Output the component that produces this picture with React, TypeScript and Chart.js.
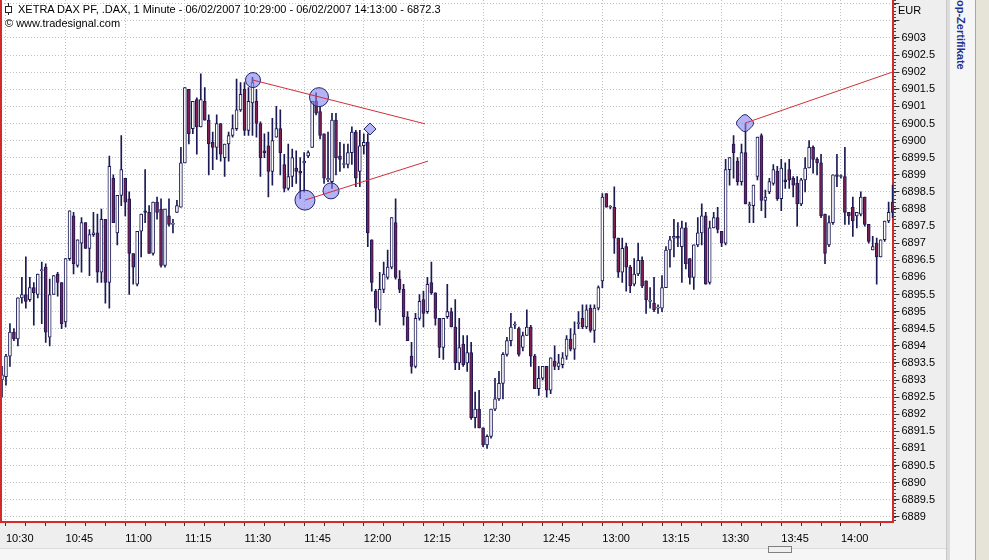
import React, { useEffect, useRef } from "react";
import { Chart, registerables } from "chart.js";

Chart.register(...registerables);

// minutes after 10:00 of the first bar (10:29)
const START_MINUTE = 29;

const OPEN = [
  6893.0, 6893.1, 6893.7, 6894.4, 6894.2, 6895.4, 6895.5, 6895.35, 6895.7, 6895.5,
  6896.2, 6896.3, 6894.25, 6895.5, 6896.1, 6895.85, 6894.7, 6896.55, 6897.8, 6896.35,
  6897.0, 6897.6, 6896.85, 6897.25, 6897.3, 6896.15, 6897.7, 6895.85, 6898.9, 6897.3,
  6898.4, 6898.9, 6898.3, 6896.7, 6895.8, 6897.35, 6897.95, 6897.9, 6896.7, 6898.2,
  6898.0, 6896.35, 6897.8, 6897.55, 6897.9, 6898.05, 6899.35, 6901.5, 6900.35, 6901.2,
  6900.4, 6901.15, 6900.6, 6899.95, 6899.8, 6900.5, 6899.5, 6899.9, 6900.15, 6900.35,
  6900.9, 6901.5, 6900.3, 6901.1, 6901.15, 6900.5, 6899.7, 6899.85, 6899.1, 6900.1,
  6900.35, 6899.3, 6898.6, 6898.95, 6899.2, 6899.1, 6899.35, 6899.55, 6899.8, 6901.15,
  6900.85, 6900.2, 6898.85, 6898.8, 6900.6, 6899.55, 6899.3, 6899.3, 6899.65, 6900.25,
  6899.1, 6899.85, 6899.95, 6897.1, 6895.6, 6895.05, 6895.65, 6896.0, 6896.3, 6897.6,
  6895.95, 6895.65, 6894.85, 6893.7, 6893.4, 6894.8, 6895.35, 6895.0, 6895.85, 6895.55,
  6894.8, 6893.95, 6894.85, 6895.0, 6894.55, 6893.5, 6894.05, 6893.5, 6893.8, 6891.9,
  6892.15, 6891.6, 6891.1, 6891.35, 6892.15, 6892.45, 6892.9, 6893.75, 6894.15, 6894.6,
  6894.5, 6893.95, 6894.3, 6894.55, 6893.7, 6892.75, 6893.05, 6893.4, 6892.7, 6893.55,
  6893.4, 6893.45, 6893.7, 6894.2, 6893.9, 6894.65, 6894.8, 6894.55, 6895.1, 6894.45,
  6895.1, 6895.9, 6898.45, 6898.05, 6898.05, 6897.15, 6896.15, 6896.9, 6896.3, 6895.8,
  6896.1, 6896.5, 6895.9, 6895.3, 6895.25, 6895.1, 6895.1, 6895.7, 6896.8, 6897.15,
  6897.2, 6896.9, 6897.45, 6896.55, 6896.0, 6896.95, 6897.3, 6897.8, 6895.85, 6897.45,
  6897.75, 6897.35, 6897.0, 6899.15, 6899.9, 6899.4, 6898.8, 6899.65, 6898.1, 6898.1,
  6898.95, 6900.15, 6898.25, 6898.5, 6898.75, 6899.1, 6898.3, 6898.85, 6899.15, 6898.9,
  6898.75, 6898.15, 6898.85, 6899.2, 6899.8, 6899.45, 6899.35, 6897.85, 6896.95, 6897.6,
  6899.0, 6898.95, 6898.95, 6897.9, 6898.05, 6897.8, 6897.85, 6898.35, 6897.55, 6896.8,
  6897.0, 6896.6, 6897.1, 6897.65, 6898.2,
];

const HIGH = [
  6893.4, 6893.75, 6894.65, 6894.5, 6895.4, 6896.0, 6896.6, 6896.0, 6895.85, 6896.1,
  6896.45, 6896.4, 6895.95, 6896.05, 6896.15, 6895.85, 6896.55, 6897.95, 6897.9, 6897.1,
  6897.75, 6897.6, 6897.4, 6897.9, 6897.85, 6898.0, 6897.7, 6899.55, 6899.0, 6898.4,
  6900.15, 6898.9, 6898.5, 6896.7, 6897.35, 6897.85, 6899.15, 6898.1, 6898.2, 6898.35,
  6898.3, 6898.0, 6898.3, 6897.7, 6898.25, 6899.8, 6901.55, 6901.5, 6901.15, 6901.25,
  6901.95, 6901.55, 6900.75, 6900.25, 6900.75, 6900.5, 6899.9, 6900.25, 6900.75, 6901.8,
  6901.7, 6901.7, 6901.55, 6901.85, 6901.5, 6900.55, 6900.2, 6900.25, 6900.65, 6901.0,
  6900.9, 6899.6, 6899.9, 6899.75, 6899.7, 6899.5, 6899.65, 6899.7, 6901.15, 6901.4,
  6901.0, 6900.2, 6900.25, 6900.8, 6900.8, 6899.95, 6899.9, 6899.9, 6900.4, 6900.3,
  6900.3, 6900.2, 6900.2, 6897.1, 6895.65, 6896.15, 6896.45, 6896.8, 6897.75, 6898.3,
  6896.2, 6895.8, 6895.0, 6894.1, 6894.95, 6895.5, 6895.6, 6896.0, 6896.45, 6895.55,
  6894.8, 6894.8, 6895.8, 6895.1, 6895.35, 6894.8, 6894.3, 6894.3, 6894.1, 6892.65,
  6892.7, 6891.6, 6891.4, 6892.15, 6893.05, 6893.25, 6893.8, 6894.25, 6894.95, 6894.7,
  6894.55, 6894.4, 6895.05, 6894.6, 6893.75, 6893.4, 6893.4, 6893.4, 6893.65, 6894.0,
  6893.75, 6893.8, 6894.3, 6894.5, 6894.7, 6895.0, 6895.2, 6895.2, 6895.2, 6895.2,
  6895.75, 6898.45, 6898.45, 6898.1, 6898.65, 6897.15, 6897.15, 6897.0, 6896.35, 6896.55,
  6897.0, 6896.6, 6895.9, 6895.7, 6896.0, 6895.2, 6896.05, 6896.9, 6897.2, 6897.7,
  6897.6, 6897.65, 6897.6, 6896.55, 6896.95, 6897.75, 6898.15, 6897.9, 6897.65, 6897.9,
  6898.05, 6897.35, 6899.45, 6899.5, 6900.15, 6899.5, 6899.9, 6900.5, 6898.2, 6898.7,
  6900.1, 6900.2, 6898.55, 6898.9, 6899.3, 6899.25, 6899.45, 6899.35, 6899.45, 6898.95,
  6898.95, 6898.9, 6899.5, 6900.0, 6899.85, 6899.5, 6899.6, 6897.85, 6897.8, 6899.0,
  6899.6, 6899.0, 6899.8, 6897.9, 6898.35, 6897.9, 6898.5, 6898.35, 6897.55, 6897.2,
  6897.15, 6897.1, 6897.65, 6898.2, 6898.7,
];

const LOW = [
  6892.5, 6892.85, 6893.4, 6894.15, 6894.0, 6895.25, 6895.1, 6895.3, 6894.6, 6895.4,
  6894.65, 6894.1, 6894.0, 6895.5, 6895.45, 6894.5, 6894.55, 6896.5, 6896.1, 6896.3,
  6896.15, 6896.85, 6896.05, 6897.2, 6895.85, 6895.85, 6895.25, 6895.1, 6897.6, 6896.95,
  6898.1, 6897.8, 6895.5, 6895.8, 6895.75, 6896.6, 6897.6, 6896.7, 6896.65, 6897.7,
  6896.3, 6896.3, 6897.5, 6897.3, 6897.9, 6898.05, 6899.35, 6899.9, 6900.2, 6899.6,
  6900.4, 6900.6, 6899.0, 6899.15, 6899.45, 6899.4, 6898.95, 6899.4, 6900.1, 6900.3,
  6900.85, 6900.15, 6900.15, 6900.15, 6900.1, 6898.95, 6899.5, 6898.35, 6898.7, 6900.1,
  6899.0, 6898.5, 6898.55, 6898.65, 6898.75, 6898.3, 6898.5, 6899.5, 6899.8, 6900.75,
  6900.05, 6898.75, 6898.8, 6898.6, 6899.0, 6899.1, 6899.2, 6899.2, 6899.3, 6898.65,
  6898.65, 6899.6, 6896.9, 6895.6, 6894.7, 6894.6, 6895.55, 6895.95, 6896.25, 6895.95,
  6895.55, 6894.6, 6894.15, 6893.2, 6893.35, 6894.75, 6894.55, 6894.95, 6895.5, 6894.6,
  6893.65, 6893.6, 6894.8, 6894.55, 6893.3, 6893.3, 6893.4, 6893.25, 6891.85, 6891.6,
  6891.6, 6891.05, 6891.0, 6891.3, 6892.1, 6892.4, 6892.45, 6893.7, 6894.0, 6894.5,
  6893.7, 6893.85, 6894.3, 6893.4, 6892.75, 6892.55, 6893.0, 6892.5, 6892.6, 6893.3,
  6893.3, 6893.35, 6893.6, 6893.85, 6893.6, 6894.5, 6894.5, 6894.5, 6894.4, 6894.1,
  6895.05, 6895.7, 6898.05, 6898.0, 6896.7, 6896.0, 6895.85, 6895.6, 6895.55, 6895.75,
  6896.05, 6895.7, 6894.95, 6895.1, 6895.0, 6894.95, 6895.0, 6895.7, 6896.3, 6896.6,
  6896.9, 6895.85, 6896.25, 6895.8, 6895.65, 6896.9, 6896.95, 6895.8, 6895.8, 6897.45,
  6897.3, 6896.9, 6896.95, 6898.7, 6898.9, 6898.7, 6898.7, 6898.15, 6897.6, 6897.6,
  6898.85, 6897.95, 6897.75, 6898.45, 6898.7, 6898.25, 6897.95, 6898.6, 6898.6, 6898.35,
  6897.5, 6898.1, 6898.5, 6899.2, 6899.05, 6899.0, 6897.75, 6896.4, 6896.9, 6897.55,
  6898.65, 6898.9, 6897.55, 6897.55, 6897.2, 6897.45, 6897.8, 6897.5, 6897.0, 6896.8,
  6895.8, 6896.6, 6897.05, 6897.6, 6897.75,
];

const CLOSE = [
  6893.15, 6893.7, 6894.4, 6894.2, 6895.4, 6895.5, 6895.3, 6895.7, 6895.55, 6896.1,
  6896.2, 6894.4, 6895.5, 6896.05, 6895.85, 6894.65, 6896.55, 6897.95, 6896.4, 6897.1,
  6897.6, 6896.85, 6897.25, 6897.3, 6896.15, 6897.7, 6895.85, 6899.25, 6897.6, 6898.4,
  6899.15, 6898.2, 6896.7, 6896.3, 6897.35, 6897.85, 6897.9, 6896.7, 6898.2, 6897.9,
  6896.35, 6898.0, 6897.55, 6897.55, 6898.1, 6899.35, 6901.55, 6900.2, 6901.15, 6900.4,
  6901.2, 6900.6, 6899.9, 6899.8, 6900.5, 6899.6, 6899.9, 6900.15, 6900.35, 6900.9,
  6901.35, 6900.3, 6901.15, 6901.7, 6900.5, 6899.5, 6899.65, 6899.1, 6900.0, 6900.35,
  6899.65, 6898.6, 6898.95, 6899.5, 6899.1, 6899.05, 6899.4, 6899.65, 6901.15, 6900.8,
  6900.15, 6898.9, 6898.9, 6900.6, 6899.5, 6899.45, 6899.3, 6899.65, 6900.25, 6898.9,
  6899.85, 6899.95, 6897.3, 6895.85, 6895.1, 6895.65, 6896.1, 6896.3, 6897.75, 6896.0,
  6895.65, 6894.85, 6894.15, 6893.4, 6894.8, 6895.3, 6894.95, 6895.8, 6895.55, 6894.8,
  6893.95, 6894.8, 6895.0, 6894.55, 6893.5, 6893.95, 6893.45, 6893.8, 6891.9, 6892.15,
  6891.6, 6891.1, 6891.35, 6892.15, 6892.45, 6892.9, 6893.75, 6894.15, 6894.55, 6894.6,
  6893.75, 6894.3, 6894.55, 6893.7, 6892.75, 6893.05, 6893.4, 6892.7, 6893.65, 6893.4,
  6893.5, 6893.65, 6894.2, 6893.9, 6894.35, 6894.65, 6894.55, 6895.05, 6894.45, 6895.1,
  6895.7, 6898.35, 6898.05, 6898.05, 6897.15, 6896.15, 6896.85, 6896.3, 6895.75, 6896.1,
  6896.5, 6895.75, 6895.35, 6895.3, 6895.05, 6895.1, 6895.7, 6896.8, 6897.1, 6897.2,
  6897.15, 6897.45, 6896.4, 6896.0, 6896.95, 6897.3, 6897.8, 6895.8, 6897.45, 6897.75,
  6897.4, 6897.0, 6899.15, 6899.5, 6899.65, 6898.8, 6899.65, 6898.15, 6898.1, 6898.7,
  6900.1, 6898.25, 6898.35, 6898.8, 6899.15, 6898.3, 6899.2, 6898.8, 6898.85, 6898.7,
  6898.15, 6898.85, 6899.2, 6899.8, 6899.45, 6899.35, 6897.8, 6896.7, 6897.6, 6899.0,
  6898.95, 6898.95, 6897.9, 6897.8, 6897.65, 6897.9, 6898.35, 6897.55, 6897.05, 6896.9,
  6896.6, 6897.1, 6897.65, 6897.9, 6897.9,
];

// x tick labels (minutes after 10:00) and y tick values
const X_LABEL_MINUTES = [30, 45, 60, 75, 90, 105, 120, 135, 150, 165, 180, 195, 210, 225, 240];
const X_MINOR_STEP = 5;
const X_LAST_TICK = 250;
const Y_TICK_VALUES = [
  6889, 6889.5, 6890, 6890.5, 6891, 6891.5, 6892, 6892.5, 6893, 6893.5, 6894, 6894.5,
  6895, 6895.5, 6896, 6896.5, 6897, 6897.5, 6898, 6898.5, 6899, 6899.5, 6900, 6900.5,
  6901, 6901.5, 6902, 6902.5, 6903, 6903.5, 6904,
];
const Y_MAX_LABEL = 6903;
const X_MIN = 28.75;
const X_MAX = 253.2;
const Y_MIN = 6888.848;
const Y_MAX = 6904.111;

// drawing-tool annotations (minute, price)
const MARKER_X = [92.13, 108.73, 105.2, 111.75, 121.56, 215.87];
const MARKER_Y = [6901.77, 6901.27, 6898.26, 6898.53, 6900.34, 6900.51];
const TREND_UPPER_X = [92.13, 135.39];
const TREND_UPPER_Y = [6901.77, 6900.49];
const TREND_LOWER_X = [105.2, 136.14];
const TREND_LOWER_Y = [6898.26, 6899.4];
const TREND_RIGHT_X = [215.87, 253.1];
const TREND_RIGHT_Y = [6900.51, 6902.01];

const TITLE = "XETRA DAX PF, .DAX, 1 Minute - 06/02/2007 10:29:00 - 06/02/2007 14:13:00 - 6872.3";
const SOURCE = "\u00a9 www.tradesignal.com";

// styles
const NAVY = "#1b1a55";
const MAROON = "#7e1f4f";
const RED = "#d42a2a";
const LINE_RED = "#d0303a";
const GRID = "#c2c2c2";
const FONT = '"Liberation Sans", Arial, sans-serif';
const MARKER_STYLE = ["circle", "circle", "circle", "circle", "rectRot", "rectRounded"];
const MARKER_RADIUS = [7.5, 9.5, 10, 8, 6, 8.5];
const MARKER_ROT = [0, 0, 0, 0, 0, 45];

function fmtMinute(m: number): string {
  const h = 10 + Math.floor(m / 60);
  const mm = m % 60;
  return `${h}:${mm < 10 ? "0" + mm : mm}`;
}

const framePlugin = {
  id: "frame",
  beforeDraw(chart: any) {
    const { ctx, chartArea: a } = chart;
    ctx.save();
    ctx.fillStyle = "#ffffff";
    ctx.fillRect(a.left, a.top, a.right - a.left, a.bottom - a.top);
    ctx.restore();
  },
  afterDraw(chart: any) {
    const { ctx, chartArea: a, scales } = chart;
    ctx.save();
    ctx.strokeStyle = RED;
    ctx.lineWidth = 2;
    ctx.beginPath();
    ctx.moveTo(a.left, 0);
    ctx.lineTo(a.left, a.bottom);
    ctx.stroke();
    const y = scales.y;
    ctx.fillStyle = "#444";
    for (let v = Math.ceil(y.min * 10); v <= y.max * 10; v++) {
      const py = Math.round(y.getPixelForValue(v / 10));
      ctx.fillRect(Math.round(a.right) + 1, py, 2, 1);
    }
    ctx.restore();
  },
};

export default function App() {
  const ref = useRef<HTMLCanvasElement>(null);

  useEffect(() => {
    document.body.style.margin = "0";
    const canvas = ref.current;
    if (!canvas) return;
    const xs = OPEN.map((_, i) => START_MINUTE + i);
    const up = OPEN.map((o, i) => CLOSE[i] >= o);
    const minorTicks: number[] = [];
    for (let m = X_LABEL_MINUTES[0]; m <= X_LAST_TICK; m += X_MINOR_STEP) minorTicks.push(m);

    const trend = (X: number[], Y: number[]) => X.map((x, i) => ({ x, y: Y[i] }));
    const lineDs = (X: number[], Y: number[]) => ({
      type: "line" as const,
      data: trend(X, Y),
      borderColor: LINE_RED,
      borderWidth: 1,
      pointRadius: 0,
      fill: false,
      order: -2,
    });

    const chart = new Chart(canvas, {
      type: "bar",
      data: {
        datasets: [
          lineDs(TREND_UPPER_X, TREND_UPPER_Y),
          lineDs(TREND_LOWER_X, TREND_LOWER_Y),
          lineDs(TREND_RIGHT_X, TREND_RIGHT_Y),
          {
            type: "line",
            data: trend(MARKER_X, MARKER_Y),
            showLine: false,
            pointStyle: MARKER_STYLE as any,
            pointRadius: MARKER_RADIUS,
            pointRotation: MARKER_ROT,
            pointBackgroundColor: "rgba(128,128,238,0.6)",
            pointBorderColor: "#24246e",
            pointBorderWidth: 1,
            order: -1,
          } as any,
          {
            type: "bar",
            data: xs.map((x, i) => ({ x, y: [OPEN[i], CLOSE[i]] })),
            backgroundColor: up.map((u) => (u ? "#ffffff" : MAROON)),
            borderColor: NAVY,
            borderWidth: 1,
            borderSkipped: false,
            minBarLength: 1,
            grouped: false,
            barPercentage: 1,
            categoryPercentage: 1,
            maxBarThickness: 3,
            order: 0,
          } as any,
          {
            type: "bar",
            data: xs.map((x, i) => ({ x, y: [LOW[i], HIGH[i]] })),
            backgroundColor: NAVY,
            borderWidth: 0,
            grouped: false,
            barPercentage: 1,
            categoryPercentage: 1,
            maxBarThickness: 1,
            order: 1,
          } as any,
        ],
      },
      options: {
        animation: false,
        responsive: false,
        devicePixelRatio: 1,
        layout: { autoPadding: false, padding: { left: 1, top: 0, right: 44, bottom: 12 } },
        plugins: { legend: { display: false }, tooltip: { enabled: false }, title: { display: false } },
        scales: {
          x: {
            type: "linear",
            min: X_MIN,
            max: X_MAX,
            bounds: "data",
            offset: false,
            afterBuildTicks: (s: any) => {
              s.ticks = minorTicks.map((v) => ({ value: v }));
            },
            afterFit: (s: any) => {
              s.height = 26;
              s.paddingLeft = 0;
              s.paddingRight = 0;
            },
            ticks: {
              autoSkip: false,
              maxRotation: 0,
              minRotation: 0,
              align: "start",
              padding: 6,
              color: "#000",
              font: { family: FONT, size: 11 },
              callback: (v: any) => (X_LABEL_MINUTES.includes(Number(v)) ? fmtMinute(Number(v)) : ""),
            },
            grid: {
              offset: false,
              color: (c: any) => (c.tick && X_LABEL_MINUTES.includes(c.tick.value) ? GRID : "rgba(0,0,0,0)"),
              tickColor: "#333",
              tickLength: 4,
              tickBorderDash: [],
              lineWidth: 1,
            },
            border: { color: RED, width: 2, dash: [1, 2] },
          } as any,
          y: {
            type: "linear",
            position: "right",
            min: Y_MIN,
            max: Y_MAX,
            bounds: "data",
            afterBuildTicks: (s: any) => {
              s.ticks = Y_TICK_VALUES.map((v) => ({ value: v }));
            },
            afterFit: (s: any) => {
              s.width = 51.6;
              s.paddingTop = 0;
              s.paddingBottom = 0;
            },
            ticks: {
              autoSkip: false,
              padding: 2,
              color: "#000",
              font: { family: FONT, size: 11 },
              callback: (v: any) => (Number(v) <= Y_MAX_LABEL ? String(v) : ""),
            },
            grid: {
              color: GRID,
              tickColor: "#333",
              tickLength: 6,
              tickBorderDash: [],
              lineWidth: 1,
            },
            border: { color: RED, width: 2, dash: [1, 2] },
          } as any,
        },
      },
      plugins: [framePlugin],
    });
    return () => chart.destroy();
  }, []);

  const txt: React.CSSProperties = {
    position: "absolute",
    fontFamily: FONT,
    fontSize: 11,
    lineHeight: "12px",
    color: "#000",
    whiteSpace: "nowrap",
  };

  return (
    <div style={{ position: "relative", width: 989, height: 560, overflow: "hidden", background: "#eeeeee" }}>
      <canvas ref={ref} width={989} height={560} style={{ display: "block", width: 989, height: 560 }} />
      {/* title icon */}
      <div style={{ position: "absolute", left: 8, top: 3, width: 1, height: 12, background: "#222" }} />
      <div style={{ position: "absolute", left: 5, top: 6, width: 5, height: 5, background: "#fff", border: "1px solid #222" }} />
      <div style={{ ...txt, left: 18, top: 3 }}>{TITLE}</div>
      <div style={{ ...txt, left: 5, top: 17 }}>{SOURCE}</div>
      <div style={{ ...txt, left: 898, top: 4 }}>EUR</div>
      {/* right side panels */}
      <div style={{ position: "absolute", left: 946, top: 0, width: 3, height: 560, background: "#dcdcdc", borderLeft: "1px solid #c8c8c8" }} />
      <div style={{ position: "absolute", left: 950, top: 0, width: 25, height: 560, background: "#f6f6f6" }} />
      <div
        style={{
          position: "absolute",
          left: 954,
          top: 0,
          writingMode: "vertical-rl",
          fontFamily: FONT,
          fontSize: 11,
          fontWeight: "bold",
          color: "#1f2f8f",
          whiteSpace: "nowrap",
          lineHeight: "14px",
        }}
      >
        op-Zertifikate
      </div>
      <div style={{ position: "absolute", left: 975, top: 0, width: 14, height: 560, background: "#e6e3d8", borderLeft: "1px solid #a8a8a8" }} />
      {/* bottom strip with scroll thumb */}
      <div style={{ position: "absolute", left: 0, top: 548, width: 946, height: 12, background: "#f6f6f6", borderTop: "1px solid #dcdcdc" }} />
      <div style={{ position: "absolute", left: 768, top: 546, width: 22, height: 5, background: "#f0f0f0", border: "1px solid #808080" }} />
    </div>
  );
}
